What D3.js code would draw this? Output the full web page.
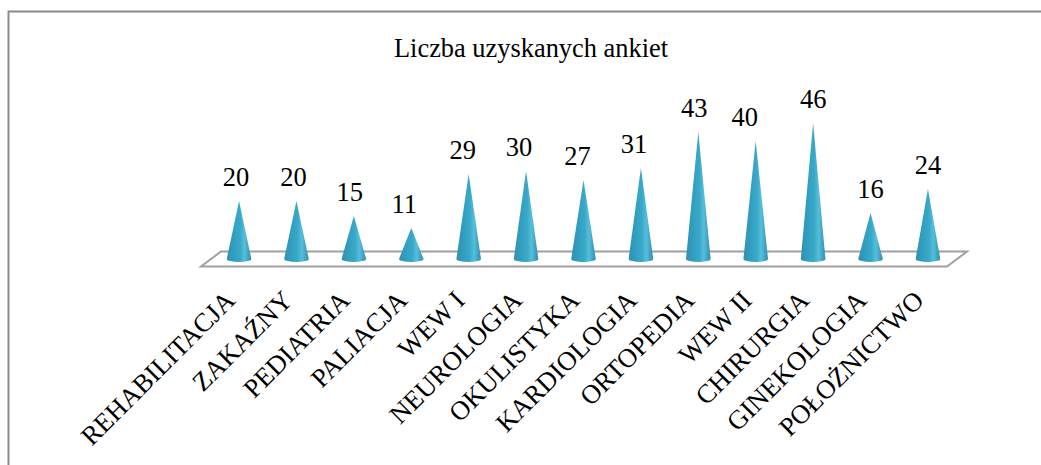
<!DOCTYPE html>
<html>
<head>
<meta charset="utf-8">
<script src="https://cdn.jsdelivr.net/npm/d3@7"></script>
<style>
  html, body { margin: 0; padding: 0; background: #fff; }
  text { font-family: "Liberation Serif", serif; fill: #000; }
</style>
</head>
<body>
<script>
// Chart values
var categories = ["REHABILITACJA", "ZAKAŹNY", "PEDIATRIA", "PALIACJA", "WEW I", "NEUROLOGIA", "OKULISTYKA", "KARDIOLOGIA", "ORTOPEDIA", "WEW II", "CHIRURGIA", "GINEKOLOGIA", "POŁOŻNICTWO"];
var values = [20, 20, 15, 11, 29, 30, 27, 31, 43, 40, 46, 16, 24];
var chartTitle = "Liczba uzyskanych ankiet";

// The labels don't sit exactly over their cones in the original
var labelNudge = [-3, -3, -4, -7, -6, -7, -6, -7, -4, -11, 0, 0, 0];

// SVG area
var svgWidth = 1041;
var svgHeight = 465;

var svg = d3.select("body")
  .append("svg")
  .attr("width", svgWidth)
  .attr("height", svgHeight)
  .style("display", "block");

// Cone shading, dark at the edges and light just right of the middle
var defs = svg.append("defs");
var grad = defs.append("linearGradient").attr("id", "cone");
[[0, "#3190b1"], [0.3, "#329fc0"], [0.55, "#3aa9c9"], [0.72, "#55bfd9"], [0.88, "#3fa3c4"], [1, "#318cb0"]].forEach(function(s) {
  grad.append("stop").attr("offset", s[0]).attr("stop-color", s[1]);
});

// Outer frame, runs off the right and bottom of the picture
svg.append("rect")
  .attr("x", 8.5).attr("y", 11.5)
  .attr("width", 1100).attr("height", 500)
  .attr("fill", "none")
  .attr("stroke", "#8c8c8c")
  .attr("stroke-width", 2);

// Scales
var xScale = d3.scaleBand()
  .domain(categories)
  .range([196, 971])
  .padding(0.5);

var yScale = d3.scaleLinear()
  .domain([0, 46])
  .range([261, 123]);

function center(d) {
  return xScale(d) + xScale.bandwidth() / 2;
}

// Floor of the 3D plot
var floor = d3.path();
floor.moveTo(201, 266.5);
floor.lineTo(221, 251.5);
floor.lineTo(967, 251.5);
floor.lineTo(947, 266.5);
floor.closePath();
svg.append("path")
  .attr("d", floor.toString())
  .attr("fill", "#fff")
  .attr("stroke", "#a0a0a0")
  .attr("stroke-width", 2);

// Cones
var halfBase = 12.3;
svg.selectAll(".cone")
  .data(categories)
  .enter()
  .append("path")
  .attr("class", "cone")
  .attr("fill", "url(#cone)")
  .attr("d", function(d, i) {
    var cx = center(d);
    var top = yScale(values[i]);
    return "M" + (cx - halfBase) + ",259 L" + cx + "," + top + " L" + (cx + halfBase) + ",259 A" + halfBase + ",3 0 0 1 " + (cx - halfBase) + ",259 Z";
  });

// Value labels
svg.selectAll(".value")
  .data(categories)
  .enter()
  .append("text")
  .attr("class", "value")
  .attr("x", function(d, i) { return center(d) + labelNudge[i]; })
  .attr("y", function(d, i) { return yScale(values[i]) - 15; })
  .attr("text-anchor", "middle")
  .style("font-size", "26.5px")
  .text(function(d, i) { return values[i]; });

// Category labels, rotated
svg.selectAll(".cat")
  .data(categories)
  .enter()
  .append("text")
  .attr("class", "cat")
  .attr("text-anchor", "end")
  .style("font-size", "26.6px")
  .attr("transform", function(d) {
    return "translate(" + (center(d) - 2.5) + ",302) rotate(-45)";
  })
  .text(function(d) { return d; });

// Title
svg.append("text")
  .attr("x", 531)
  .attr("y", 57)
  .attr("text-anchor", "middle")
  .style("font-size", "26.4px")
  .text(chartTitle);
</script>
</body>
</html>
